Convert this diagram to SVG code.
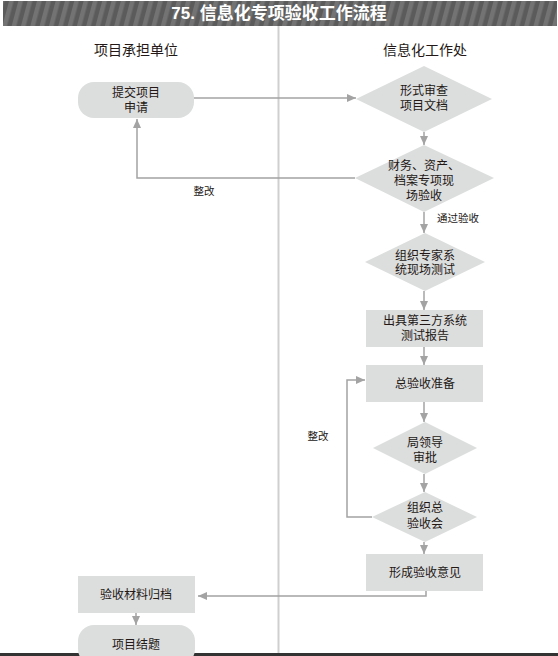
<svg xmlns="http://www.w3.org/2000/svg" width="558" height="656" viewBox="0 0 558 656">
<style>
.t{font-family:"Liberation Sans","Noto Sans CJK SC",sans-serif;font-size:12px;fill:#231815;text-anchor:middle}
.l{font-family:"Liberation Sans","Noto Sans CJK SC",sans-serif;font-size:10.5px;fill:#231815;text-anchor:middle}
.h{font-family:"Liberation Sans","Noto Sans CJK SC",sans-serif;font-size:14px;fill:#231815;text-anchor:middle}
.s{fill:#dcdddd;stroke:none}
.c{fill:none;stroke:#a3a3a3;stroke-width:1.5}
</style>
<defs>
<pattern id="st" width="9" height="9" patternUnits="userSpaceOnUse" patternTransform="rotate(15)">
<rect width="9" height="9" fill="#5b5b5b"/>
<rect width="4.5" height="9" fill="#737373"/>
</pattern>
<marker id="a" markerWidth="10" markerHeight="10" refX="9" refY="5" orient="auto" markerUnits="userSpaceOnUse">
<path d="M0,1 L9,5 L0,9 Z" fill="#a3a3a3"/>
</marker>
</defs>
<rect x="0" y="0" width="558" height="656" fill="#fff"/>
<g id="title">
<rect x="3" y="1" width="554" height="25" fill="url(#st)"/>
<text x="279" y="19" font-family="'Liberation Sans','Noto Sans CJK SC',sans-serif" font-size="17" font-weight="bold" fill="#fff" text-anchor="middle">75. 信息化专项验收工作流程</text>
</g>
<line x1="278.5" y1="26" x2="278.5" y2="656" stroke="#cfcfcf" stroke-width="2"/>
<rect x="0" y="653" width="558" height="3" fill="#333"/>
<g id="headers">
<text class="h" x="136" y="55">项目承担单位</text>
<text class="h" x="425" y="55">信息化工作处</text>
</g>
<g id="connectors">
<line class="c" x1="194" y1="98" x2="356" y2="98" marker-end="url(#a)"/>
<line class="c" x1="424" y1="132" x2="424" y2="145" marker-end="url(#a)"/>
<polyline class="c" points="355,178 137,178 137,119" marker-end="url(#a)"/>
<line class="c" x1="424" y1="212" x2="424" y2="233" marker-end="url(#a)"/>
<line class="c" x1="424" y1="291" x2="424" y2="310" marker-end="url(#a)"/>
<line class="c" x1="424" y1="347" x2="424" y2="365" marker-end="url(#a)"/>
<line class="c" x1="424" y1="402" x2="424" y2="422" marker-end="url(#a)"/>
<line class="c" x1="424" y1="474" x2="424" y2="492" marker-end="url(#a)"/>
<polyline class="c" points="372,517 347,517 347,380 365,380" marker-end="url(#a)"/>
<line class="c" x1="424" y1="542" x2="424" y2="554" marker-end="url(#a)"/>
<polyline class="c" points="426,591 426,596 198,596" marker-end="url(#a)"/>
<line class="c" x1="136" y1="613" x2="136" y2="625" marker-end="url(#a)"/>
<text class="l" x="204" y="195">整改</text>
<text class="l" x="458" y="222">通过验收</text>
<text class="l" x="318" y="440">整改</text>
</g>
<g id="n1">
<rect class="s" x="78" y="82" width="116" height="36" rx="16"/>
<text class="t" x="136" y="97">提交项目</text>
<text class="t" x="136" y="112">申请</text>
</g>
<g id="n2">
<polygon class="s" points="424,66 492,99 424,132 356,99"/>
<text class="t" x="424" y="95">形式审查</text>
<text class="t" x="424" y="110">项目文档</text>
</g>
<g id="n3">
<polygon class="s" points="424,145 494,178 424,212 355,178"/>
<text class="t" x="424" y="170">财务、资产、</text>
<text class="t" x="424" y="185">档案专项现</text>
<text class="t" x="424" y="200">场验收</text>
</g>
<g id="n4">
<polygon class="s" points="425,233 485,262 425,291 365,262"/>
<text class="t" x="425" y="260">组织专家系</text>
<text class="t" x="425" y="274">统现场测试</text>
</g>
<g id="n5">
<rect class="s" x="366" y="310" width="117" height="37"/>
<text class="t" x="425" y="325">出具第三方系统</text>
<text class="t" x="425" y="340">测试报告</text>
</g>
<g id="n6">
<rect class="s" x="366" y="365" width="117" height="37"/>
<text class="t" x="425" y="388">总验收准备</text>
</g>
<g id="n7">
<polygon class="s" points="425,422 477,448 425,474 373,448"/>
<text class="t" x="425" y="447">局领导</text>
<text class="t" x="425" y="462">审批</text>
</g>
<g id="n8">
<polygon class="s" points="425,492 477,517 425,542 372,517"/>
<text class="t" x="425" y="512">组织总</text>
<text class="t" x="425" y="528">验收会</text>
</g>
<g id="n9">
<rect class="s" x="366" y="554" width="117" height="37"/>
<text class="t" x="425" y="577">形成验收意见</text>
</g>
<g id="n10">
<rect class="s" x="78" y="576" width="117" height="37"/>
<text class="t" x="136" y="599">验收材料归档</text>
</g>
<g id="n11">
<rect class="s" x="78" y="625" width="117" height="40" rx="16"/>
<text class="t" x="136" y="649">项目结题</text>
</g>
</svg>
